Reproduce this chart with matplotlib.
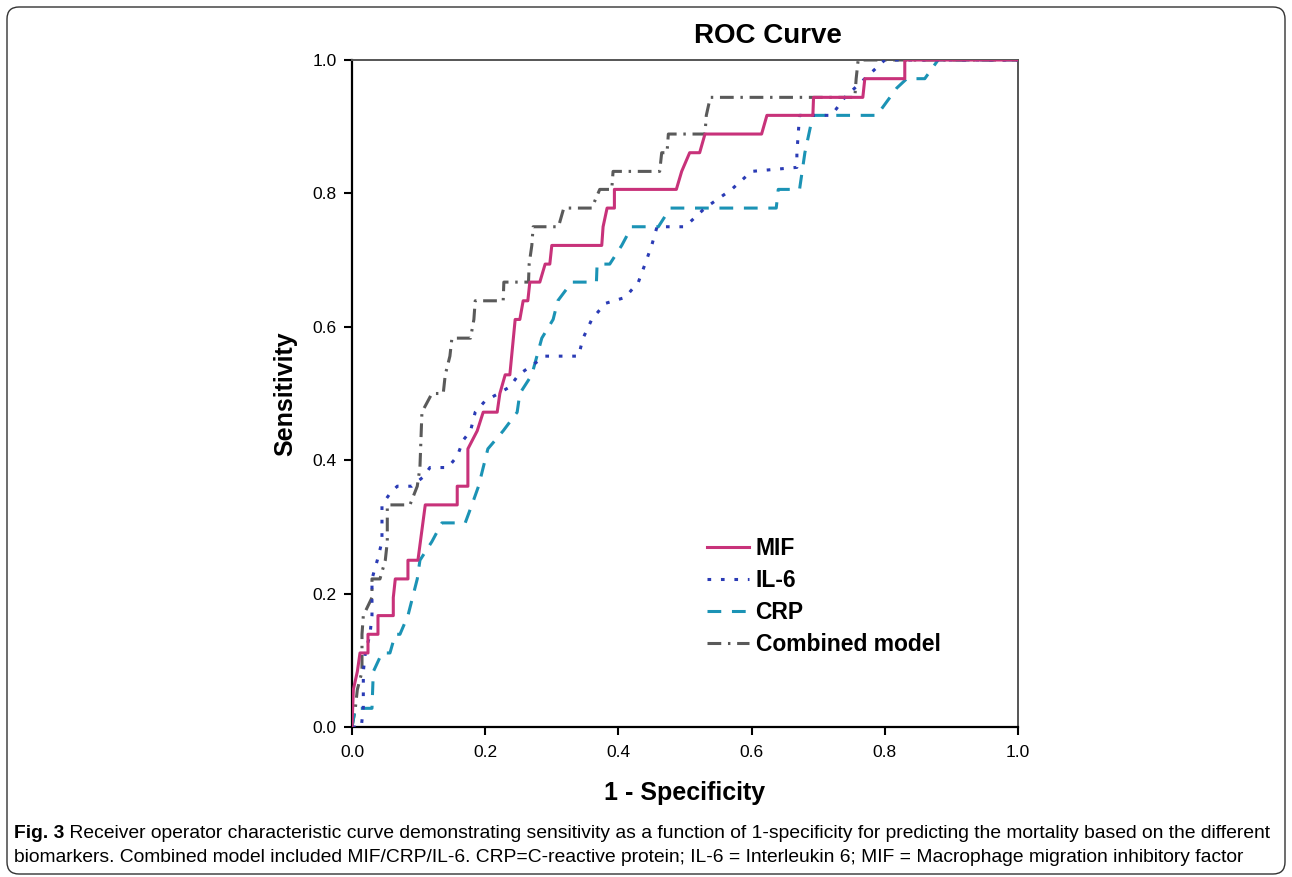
import matplotlib
matplotlib.use("Agg")
import matplotlib.pyplot as plt
from matplotlib.patches import FancyBboxPatch
from matplotlib.transforms import IdentityTransform

plt.rcParams['font.family'] = ['Liberation Sans', 'DejaVu Sans']

# ROC curves (1 - specificity, sensitivity)
mif_x = [0.0, 0.002, 0.008, 0.012, 0.024, 0.024, 0.039, 0.039, 0.062, 0.062, 0.065, 0.084, 0.084,
         0.099, 0.11, 0.158, 0.158, 0.174, 0.174, 0.188, 0.197, 0.218, 0.222, 0.23, 0.237, 0.245,
         0.252, 0.257, 0.264, 0.267, 0.282, 0.29, 0.297, 0.30, 0.375, 0.377, 0.383, 0.394, 0.394,
         0.487, 0.495, 0.507, 0.522, 0.53, 0.615, 0.623, 0.692, 0.693, 0.767, 0.77, 0.83, 0.83, 1.0]
mif_y = [0.0, 0.056, 0.083, 0.111, 0.111, 0.139, 0.139, 0.167, 0.167, 0.194, 0.222, 0.222, 0.25,
         0.25, 0.333, 0.333, 0.361, 0.361, 0.417, 0.444, 0.472, 0.472, 0.5, 0.528, 0.528, 0.611,
         0.611, 0.639, 0.639, 0.667, 0.667, 0.694, 0.694, 0.722, 0.722, 0.75, 0.778, 0.778, 0.806,
         0.806, 0.833, 0.861, 0.861, 0.889, 0.889, 0.917, 0.917, 0.944, 0.944, 0.972, 0.972, 1.0, 1.0]

il6_x = [0.0, 0.014, 0.017, 0.017, 0.02, 0.027, 0.03, 0.03, 0.038, 0.045, 0.045, 0.057, 0.068,
         0.09, 0.107, 0.117, 0.144, 0.158, 0.167, 0.178, 0.185, 0.20, 0.22, 0.237, 0.25, 0.27,
         0.29, 0.34, 0.347, 0.36, 0.38, 0.41, 0.43, 0.44, 0.45, 0.458, 0.50, 0.53, 0.57, 0.60,
         0.668, 0.668, 0.672, 0.72, 0.74, 0.77, 0.80, 1.0]
il6_y = [0.0, 0.0, 0.03, 0.083, 0.111, 0.139, 0.167, 0.222, 0.25, 0.278, 0.333, 0.35, 0.361,
         0.361, 0.375, 0.389, 0.389, 0.406, 0.43, 0.444, 0.472, 0.489, 0.5, 0.51, 0.528, 0.542,
         0.556, 0.556, 0.583, 0.611, 0.635, 0.644, 0.667, 0.694, 0.722, 0.75, 0.75, 0.778, 0.806,
         0.833, 0.839, 0.861, 0.917, 0.917, 0.944, 0.972, 1.0, 1.0]

crp_x = [0.0, 0.005, 0.03, 0.032, 0.045, 0.057, 0.065, 0.072, 0.084, 0.098, 0.102, 0.12, 0.135,
         0.17, 0.18, 0.19, 0.204, 0.227, 0.248, 0.252, 0.27, 0.285, 0.302, 0.309, 0.33, 0.367,
         0.368, 0.387, 0.405, 0.42, 0.46, 0.478, 0.637, 0.64, 0.672, 0.68, 0.692, 0.788, 0.818,
         0.833, 0.86, 0.88, 1.0]
crp_y = [0.0, 0.028, 0.028, 0.083, 0.111, 0.111, 0.139, 0.139, 0.167, 0.222, 0.25, 0.278, 0.306,
         0.306, 0.333, 0.361, 0.417, 0.444, 0.472, 0.5, 0.528, 0.583, 0.611, 0.639, 0.667, 0.667,
         0.694, 0.694, 0.722, 0.75, 0.75, 0.778, 0.778, 0.806, 0.806, 0.861, 0.917, 0.917, 0.958,
         0.972, 0.972, 1.0, 1.0]

comb_x = [0.0, 0.005, 0.008, 0.015, 0.015, 0.017, 0.03, 0.03, 0.042, 0.05, 0.053, 0.053, 0.087,
          0.098, 0.102, 0.105, 0.12, 0.137, 0.14, 0.147, 0.15, 0.178, 0.183, 0.185, 0.227, 0.228,
          0.265, 0.266, 0.27, 0.272, 0.31, 0.318, 0.36, 0.372, 0.39, 0.392, 0.414, 0.462, 0.465,
          0.473, 0.475, 0.53, 0.532, 0.538, 0.755, 0.757, 0.76, 1.0]
comb_y = [0.0, 0.028, 0.056, 0.083, 0.139, 0.167, 0.194, 0.222, 0.222, 0.25, 0.278, 0.333, 0.333,
          0.361, 0.389, 0.472, 0.5, 0.5, 0.528, 0.556, 0.583, 0.583, 0.611, 0.639, 0.639, 0.667,
          0.667, 0.694, 0.722, 0.75, 0.75, 0.778, 0.778, 0.806, 0.806, 0.833, 0.833, 0.833, 0.861,
          0.861, 0.889, 0.889, 0.917, 0.944, 0.944, 0.972, 1.0, 1.0]

ticks = [0.0, 0.2, 0.4, 0.6, 0.8, 1.0]
tick_labels = ['0.0', '0.2', '0.4', '0.6', '0.8', '1.0']
caption_bold = 'Fig. 3'
caption_1 = (' Receiver operator characteristic curve demonstrating sensitivity as a function of '
             '1-specificity for predicting the mortality based on the different')
caption_2 = ('biomarkers. Combined model included MIF/CRP/IL-6. CRP=C-reactive protein; '
             'IL-6 = Interleukin 6; MIF = Macrophage migration inhibitory factor')

fig = plt.figure(figsize=(12.92, 8.77), dpi=100)
ax = fig.add_axes([352/1292, 150/877, 666/1292, 667/877])

lw = 2.2
ax.plot(mif_x, mif_y, color='#c8327a', lw=lw, label='MIF', zorder=5)
ax.plot(il6_x, il6_y, color='#2a3bb5', lw=lw, linestyle=(0, (1.2, 3.2)), label='IL-6', zorder=4)
ax.plot(crp_x, crp_y, color='#1b93b5', lw=lw, linestyle=(0, (4.5, 3.5)), label='CRP', zorder=3)
ax.plot(comb_x, comb_y, color='#5a5a5a', lw=lw, linestyle=(0, (4.5, 2.2, 0.8, 2.2)),
        label='Combined model', zorder=2)

ax.set_xlim(0, 1)
ax.set_ylim(0, 1)
ax.set_xticks(ticks)
ax.set_xticklabels(tick_labels)
ax.set_yticks(ticks)
ax.set_yticklabels(tick_labels)
ax.tick_params(length=6, width=1.5, labelsize=12.5)
ax.tick_params(axis='x', pad=7)
ax.tick_params(axis='y', pad=5)

for side in ['left', 'bottom']:
    ax.spines[side].set_linewidth(1.6)
    ax.spines[side].set_color('black')
for side in ['top', 'right']:
    ax.spines[side].set_linewidth(1.4)
    ax.spines[side].set_color('#555555')

ax.set_xlabel('1 - Specificity', fontsize=18, fontweight='bold', labelpad=15)
ax.set_ylabel('Sensitivity', fontsize=18, fontweight='bold', labelpad=11)
fig.text(768/1292, 1 - 36/877, 'ROC Curve', fontsize=20, fontweight='bold', ha='center', va='center')

leg = ax.legend(loc='upper left', bbox_to_anchor=(696/1292, 1 - 526/877),
                bbox_transform=fig.transFigure, frameon=False, borderpad=0,
                handlelength=1.8, handletextpad=0.3, labelspacing=0.38,
                prop={'size': 16.5, 'weight': 'bold'})

# frame around the whole figure
border = FancyBboxPatch((7, 3), 1278, 867, boxstyle='round,pad=0,rounding_size=12',
                        transform=IdentityTransform(), fill=False, edgecolor='#333333', lw=1.0)
fig.patches.append(border)

# caption with bold "Fig. 3"
fig.canvas.draw()
renderer = fig.canvas.get_renderer()
cap_size = 13.9
t0 = fig.text(14/1292, 1 - 833/877, caption_bold, fontsize=cap_size, fontweight='bold', va='center')
bb = t0.get_window_extent(renderer)
fig.text(bb.x1 / 1292, 1 - 833/877, caption_1, fontsize=cap_size, va='center')
fig.text(14/1292, 1 - 857/877, caption_2, fontsize=cap_size, va='center')

fig.savefig('out.png', dpi=100)
